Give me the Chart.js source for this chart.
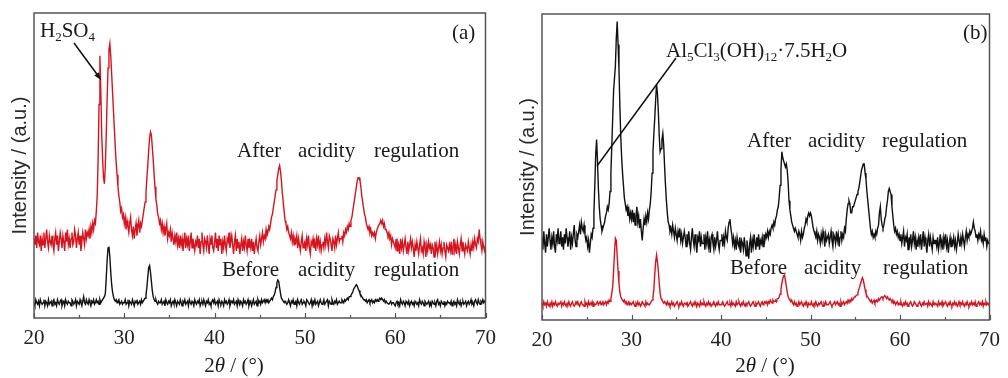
<!DOCTYPE html>
<html><head><meta charset="utf-8">
<script src="https://cdn.jsdelivr.net/npm/chart.js@4.4.0/dist/chart.umd.min.js"></script>
<style>
body{margin:0;background:#fff;width:1008px;height:378px;overflow:hidden;position:relative}
.p{position:absolute;top:0;height:378px;width:504px}
#wa{left:0}#wb{left:504px}
</style></head><body>
<div class="p" id="wa"><canvas id="ca"></canvas></div>
<div class="p" id="wb"><canvas id="cb"></canvas></div>
<script>
// 2θ sampling grid (degrees), 0.1° steps
const angles = [
20,20.1,20.2,20.3,20.4,20.5,20.6,20.7,20.8,20.9,21,21.1,21.2,21.3,21.4,21.5,21.6,21.7,21.8,21.9,
22,22.1,22.2,22.3,22.4,22.5,22.6,22.7,22.8,22.9,23,23.1,23.2,23.3,23.4,23.5,23.6,23.7,23.8,23.9,
24,24.1,24.2,24.3,24.4,24.5,24.6,24.7,24.8,24.9,25,25.1,25.2,25.3,25.4,25.5,25.6,25.7,25.8,25.9,
26,26.1,26.2,26.3,26.4,26.5,26.6,26.7,26.8,26.9,27,27.1,27.2,27.3,27.4,27.5,27.6,27.7,27.8,27.9,
28,28.1,28.2,28.3,28.4,28.5,28.6,28.7,28.8,28.9,29,29.1,29.2,29.3,29.4,29.5,29.6,29.7,29.8,29.9,
30,30.1,30.2,30.3,30.4,30.5,30.6,30.7,30.8,30.9,31,31.1,31.2,31.3,31.4,31.5,31.6,31.7,31.8,31.9,
32,32.1,32.2,32.3,32.4,32.5,32.6,32.7,32.8,32.9,33,33.1,33.2,33.3,33.4,33.5,33.6,33.7,33.8,33.9,
34,34.1,34.2,34.3,34.4,34.5,34.6,34.7,34.8,34.9,35,35.1,35.2,35.3,35.4,35.5,35.6,35.7,35.8,35.9,
36,36.1,36.2,36.3,36.4,36.5,36.6,36.7,36.8,36.9,37,37.1,37.2,37.3,37.4,37.5,37.6,37.7,37.8,37.9,
38,38.1,38.2,38.3,38.4,38.5,38.6,38.7,38.8,38.9,39,39.1,39.2,39.3,39.4,39.5,39.6,39.7,39.8,39.9,
40,40.1,40.2,40.3,40.4,40.5,40.6,40.7,40.8,40.9,41,41.1,41.2,41.3,41.4,41.5,41.6,41.7,41.8,41.9,
42,42.1,42.2,42.3,42.4,42.5,42.6,42.7,42.8,42.9,43,43.1,43.2,43.3,43.4,43.5,43.6,43.7,43.8,43.9,
44,44.1,44.2,44.3,44.4,44.5,44.6,44.7,44.8,44.9,45,45.1,45.2,45.3,45.4,45.5,45.6,45.7,45.8,45.9,
46,46.1,46.2,46.3,46.4,46.5,46.6,46.7,46.8,46.9,47,47.1,47.2,47.3,47.4,47.5,47.6,47.7,47.8,47.9,
48,48.1,48.2,48.3,48.4,48.5,48.6,48.7,48.8,48.9,49,49.1,49.2,49.3,49.4,49.5,49.6,49.7,49.8,49.9,
50,50.1,50.2,50.3,50.4,50.5,50.6,50.7,50.8,50.9,51,51.1,51.2,51.3,51.4,51.5,51.6,51.7,51.8,51.9,
52,52.1,52.2,52.3,52.4,52.5,52.6,52.7,52.8,52.9,53,53.1,53.2,53.3,53.4,53.5,53.6,53.7,53.8,53.9,
54,54.1,54.2,54.3,54.4,54.5,54.6,54.7,54.8,54.9,55,55.1,55.2,55.3,55.4,55.5,55.6,55.7,55.8,55.9,
56,56.1,56.2,56.3,56.4,56.5,56.6,56.7,56.8,56.9,57,57.1,57.2,57.3,57.4,57.5,57.6,57.7,57.8,57.9,
58,58.1,58.2,58.3,58.4,58.5,58.6,58.7,58.8,58.9,59,59.1,59.2,59.3,59.4,59.5,59.6,59.7,59.8,59.9,
60,60.1,60.2,60.3,60.4,60.5,60.6,60.7,60.8,60.9,61,61.1,61.2,61.3,61.4,61.5,61.6,61.7,61.8,61.9,
62,62.1,62.2,62.3,62.4,62.5,62.6,62.7,62.8,62.9,63,63.1,63.2,63.3,63.4,63.5,63.6,63.7,63.8,63.9,
64,64.1,64.2,64.3,64.4,64.5,64.6,64.7,64.8,64.9,65,65.1,65.2,65.3,65.4,65.5,65.6,65.7,65.8,65.9,
66,66.1,66.2,66.3,66.4,66.5,66.6,66.7,66.8,66.9,67,67.1,67.2,67.3,67.4,67.5,67.6,67.7,67.8,67.9,
68,68.1,68.2,68.3,68.4,68.5,68.6,68.7,68.8,68.9,69,69.1,69.2,69.3,69.4,69.5,69.6,69.7,69.8,69.9,
70];

// Panel (a): after acidity regulation (red)
const afterA = [
26,24,27,23,28,25,24,27,22,26, 24,28,23,26,29,25,23,27,25,24,
27,24,22,26,28,24,27,22,25,28, 26,23,27,25,22,28,25,29,24,26,
23,26,28,24,25,29,27,23,26,28, 24,27,22,25,28,26,24,29,26,28,
27,29,26,30,28,31,29,32,31,35, 40,52,70,86,74,60,52,46,44,50,
60,72,82,88,90,86,80,74,68,62, 56,51,47,43,40,38,35,36,33,34,
31,33,29,32,30,28,31,33,29,27, 30,26,29,31,27,30,32,28,31,30,
32,34,36,38,41,46,50,55,59,61, 60,56,52,47,43,39,37,34,33,31,
32,29,31,28,30,27,29,31,26,28, 27,29,25,28,26,24,27,25,28,24,
26,23,27,24,26,22,25,28,23,26, 24,27,22,25,28,23,26,24,22,25,
24,27,23,26,21,25,28,24,22,26, 25,23,27,24,21,26,24,27,23,22,
25,28,23,26,22,27,24,26,21,25, 23,27,24,22,26,25,28,23,25,27,
24,21,25,27,22,26,23,25,21,24, 26,22,25,23,27,24,22,26,23,25,
23,26,22,25,21,24,26,23,22,25, 27,24,26,28,25,27,26,29,27,28,
30,29,31,33,34,36,38,40,42,45, 47,49,50,48,45,41,38,35,32,31,
29,30,28,27,26,28,25,27,24,26, 25,27,23,26,24,22,25,27,23,24,
25,22,26,24,27,23,21,25,24,26, 23,25,22,26,24,27,23,25,22,24,
25,23,26,24,28,25,23,27,26,24, 22,26,25,23,27,24,26,28,25,26,
26,27,25,28,27,29,28,30,29,31, 30,32,33,35,37,39,41,43,45,46,
46,45,43,40,38,36,34,33,31,30, 29,30,28,29,27,28,27,28,26,28,
29,30,30,31,32,31,32,30,31,29, 29,28,27,28,26,27,24,26,25,24,
23,26,22,25,24,21,26,23,25,22, 24,26,23,21,25,22,24,26,23,25,
23,20,24,22,25,23,21,24,26,22, 23,21,25,23,20,24,22,25,23,24,
21,24,23,20,25,22,24,21,23,25, 22,24,21,23,25,22,20,24,23,22,
24,22,25,21,23,26,22,24,21,25, 23,21,24,26,22,25,23,21,24,23,
22,25,23,21,24,22,25,23,26,24, 23,26,25,29,26,24,22,25,23,22,
24];

// Panel (a): before acidity regulation (black)
const beforeA = [
5,4,6,5,4.5,5.5,4,6,5,4.5, 5,6,4,5.5,5,4,6,4.5,5,5.5,
4,5.5,6,4.5,5,4,6,5,4.5,5.5, 6,4,5,5.5,4,6,5,4.5,5.5,5,
5,4,6,5.5,4.5,5,6,4,5.5,5, 4.5,6,5,4,5.5,7,5,4.5,6,5,
4.5,6,5,4,5.5,5,6,4.5,5,6, 5,5.5,4.5,6,5,5.5,6,6.5,7,8,
13,19,23,23.4,20,15,11,8.5,7,6, 5.5,6,5,5.5,6,4.5,5,5.5,4.5,5,
5,6,4.5,5,6,4,5.5,5,4.5,6, 5,4,5.5,5,6,4.5,5,5.5,4.5,6,
5,5.5,6,6.5,7.5,10,13.5,16.5,17.2,15, 12,9,7,6,5.5,6,5,4.5,5.5,5,
5,6,4.5,5,5.5,4,6,5,4.5,5.5, 5,6,4,5,5.5,4.5,6,5,4,5.5,
5,4.5,6,5,4,5.5,5,6,4.5,5, 5.5,4,6,5,4.5,5.5,5,4,6,5,
4.5,5.5,5,6,4,5,5.5,4.5,6,5, 4,5.5,5,6,4.5,5,4,5.5,6,5,
6,4.5,5,5.5,4,6,5,4.5,5.5,5, 4,6,5,5.5,4.5,5,6,4,5,5.5,
5,6,4.5,5,5.5,4,6,5,4.5,5.5, 5,4,6,5,5.5,4.5,5,6,4,5,
5.5,4,5,6,4.5,5,5.5,4,6,5, 5.5,4.5,6,5,5.5,6,5,6,5.5,6,
5,5.5,6,6.5,6,7,7.5,8.5,10,11.5, 12.5,12,10,8,6.5,6,5.5,5,5.5,5,
4.5,5,6,5,4,5.5,5,6,4.5,5, 5.5,4,6,5,4.5,5.5,6,4.5,5,5.5,
5,4,6,5.5,5,4.5,5,6,4,5.5, 5,6,4.5,5,5.5,4,5,6,5,4.5,
5,6,4.5,5,5.5,6,4,5.5,5,4.5, 6,5,4.5,5.5,5,6,4.5,5,5.5,5,
5,6,5.5,5,6,5.5,6,6.5,6,7, 7,7.5,8,8.5,9.5,10,10.5,10.9,10.5,9.5,
9,8,7.5,7,6.5,6,6,5.5,6,5, 5.5,6,5,5.5,6,5,5.5,5,6,5.5,
6,5.5,6,6.5,6,6.5,6,5.5,6,5, 5.5,5,5,4.5,5,5.5,4.5,5,5,4.5,
4,5,5.5,4.5,5,4,6,5,4.5,5.5, 5,4,5.5,5,4.5,5.5,4,5,5.5,4.5,
5,4,5.5,5,4.5,5,4,6,5,4.5, 5.5,5,4,5.5,5,4.5,5,5.5,4,5,
4,5.5,5,4.5,5,4,5.5,6,4.5,5, 4,5.5,5,4.5,5.5,4,5,4.5,5.5,5,
5,4.5,5.5,4,5,5.5,4.5,5,4,6, 5,4.5,5.5,4,5,5.5,4.5,5,5.5,4,
5,5.5,4.5,5,6,4.5,5,4,5.5,6, 5,4.5,6,5,4.5,5.5,5,6,5,5.5,
5];

// Panel (b): after acidity regulation (black)
const afterB = [
27,23,29,25,22,28,24,27,30,26, 23,27,25,29,24,22,28,26,30,25,
26,29,24,27,23,28,25,30,27,24, 26,29,23,27,25,28,31,26,24,28,
27,29,31,28,32,30,29,31,28,26, 27,24,26,22,25,28,27,30,35,44,
54,59,52,43,37,33,31,29,30,31, 32,34,35,37,36,38,42,48,57,66,
75,79,83,92,97.5,90,82,70,60,53, 48,44,40,38,36,37,34,36,33,35,
33,36,32,35,31,34,37,32,34,30, 33,29,26,30,33,31,34,32,35,33,
36,38,42,48,55,61,66,72,77,74, 68,60,55,56,59,61,57,50,44,39,
35,32,31,29,30,28,31,29,27,30, 28,26,29,27,30,26,28,25,27,29,
27,24,28,26,29,25,23,27,30,26, 24,28,25,22,27,26,29,24,27,25,
25,28,23,27,25,29,24,26,22,27, 28,25,23,27,24,26,29,25,23,26,
26,28,24,27,25,29,27,26,30,32, 33,30,28,25,27,24,26,23,27,25,
24,27,22,26,25,23,27,24,21,26, 23,20,25,27,22,26,24,28,25,23,
27,24,28,23,26,25,27,24,28,26, 28,27,29,27,29,28,30,31,30,32,
31,33,34,36,37,40,44,49,55,53, 52,51,50,51,49,45,39,36,34,32,
31,30,29,30,29,28,27,29,28,26, 29,27,28,30,31,33,32,34,35,34,
35,34,32,30,29,28,27,29,26,28, 27,25,28,26,29,27,24,28,26,27,
28,25,27,29,26,24,28,27,25,29, 26,28,24,27,29,26,28,27,30,29,
33,36,38,39,38,35,35,37,37,38, 39,40,41,42,43,45,47,49,50,51,
51,48,46,42,39,36,33,30,28,29, 27,28,27,29,28,30,31,35,37,33,
31,30,31,33,34,37,39,42,43,42, 41,37,34,31,29,30,28,29,27,28,
26,28,25,27,29,24,27,26,28,23, 27,25,28,24,26,29,25,27,23,26,
24,27,25,28,23,26,29,24,27,25, 22,26,28,24,27,25,23,27,25,26,
26,24,27,23,25,28,24,26,23,27, 25,28,24,26,22,25,27,24,26,25,
27,24,26,23,25,28,26,24,27,25, 28,26,24,27,29,26,28,27,29,28,
29,30,32,30,29,27,28,26,28,27, 29,26,27,25,28,26,27,24,26,25,
25];

// Panel (b): before acidity regulation (red)
const beforeB = [
5.5,4.5,6,5,5.5,4.5,6,5,4.5,5.5, 5,6,4.5,5.5,5,6,5,4.5,5.5,5,
5,6,4.5,5.5,5,6,5,4.5,5.5,5, 6,5,4.5,5.5,6,5,4.5,5,6,5.5,
6,5,4.5,5.5,6,5,5,4.5,6,5, 5.5,4.5,6,5,5.5,5,6,4.5,5.5,5,
5,5.5,6,5,5.5,6,5,5.5,6,5, 5.5,6,5,6,5.5,6.5,6,7,8.7,11,
16,22,26.7,26,21,16,12,9,7.6,7, 6.5,6,6.5,5.5,6,5,5.5,6,5,5.5,
5,5.5,6,5,4.5,5.5,5,6,5,5.5, 4.5,5,6,5.5,5,4.5,6,5,5.5,5,
5,5.5,6,6.5,7.6,10,15,19,21.2,19, 16,12,8.7,7,6.5,6,5.5,6,5.5,5,
6,5,5.5,4.5,5,6,5,5.5,4.5,5, 5.5,6,5,4.5,5.5,5,6,5,4.5,5.5,
5.5,5,6,4.5,5,5.5,6,5,4.5,5.5, 5,6,5,4.5,5.5,5,4.5,6,5,5.5,
5,6,5,4.5,5.5,5,6,5,5.5,4.5, 5,5.5,6,5,4.5,5.5,5,6,5,5,
5,5.5,6,5,4.5,5,5.5,6,5,5, 5.5,4.5,6,5,5.5,5,4.5,6,5,5.5,
6,5,4.5,5.5,5,6,5,4.5,5.5,5, 5.5,6,5,4.5,5,5.5,6,5,4.5,5.5,
5,5.5,6,5,4.5,5.5,6,5,5.5,6, 5.5,6,5,6,5.5,6.5,6,5.5,6.5,6,
6,6.5,6,7,7,7.5,8.5,10,12,13.5, 14.5,14.7,13,11,9,7.6,7,6.5,6,6.5,
5.5,5,6,5,5.5,4.5,5,6,5,5.5, 6,5,4.5,5.5,5,6,5,4.5,5.5,5,
5,6,5,4.5,5.5,5,6,5,4.5,5.5, 5,5.5,6,5,4.5,5.5,5,6,5,5,
5,5.5,6,5,4.5,5,5.5,6,5,5.5, 6,5,5.5,4.5,6,5,5.5,6,5,5.5,
6,5.5,6.5,6,6.5,6,7,6.5,7,7.5, 7.5,8,8.2,9,10,10.9,12,13,13.8,13,
11.5,10,8.7,8,7.5,7,6.5,6,6.5,5.5, 6,6.5,5.5,6,6.5,6,7,6.5,7,7.5,
7.6,7,7.6,8,7.6,7,7.6,7,6.5,7, 6.5,6,6.5,5.5,6,5,5.5,6,5,5.5,
5,6,5,4.5,5.5,5,6,5,5.5,4.5, 5,5.5,6,5,4.5,5,6,5.5,5,4.5,
5,5.5,6,5,4.5,5.5,5,6,5,5, 5.5,4.5,6,5,5.5,5,4.5,6,5,5.5,
5.5,5,4.5,6,5,5.5,5,6,4.5,5, 5.5,6,5,4.5,5.5,5,6,5,4.5,5.5,
5,6,5,5.5,4.5,5,6,5,5.5,5, 6,5,4.5,5.5,5,6,5,4.5,5.5,5,
6,5,5.5,5,6,4.5,5,5.5,6,5, 5.5,5,6,4.5,5.5,5,6,5,5.5,5,
5.5];

const xTickLabels = ['20','30','40','50','60','70'];
const yTitle = 'Intensity / (a.u.)';
const RED = '#d7141e', BLACK = '#111111';
const SERIF = '"Liberation Serif","Times New Roman",serif';
const SANS = '"Liberation Sans",Arial,sans-serif';

function pts(vals){ return angles.map((a,i)=>({x:a,y:vals[i]})); }

function rich(ctx, parts, x, y, size){
  let cx = x;
  for (const [t, sub] of parts){
    ctx.font = (sub ? Math.round(size*0.62) : size) + 'px ' + SERIF;
    ctx.fillText(t, cx, sub ? y + Math.round(size*0.2) : y);
    cx += ctx.measureText(t).width;
  }
  return cx - x;
}

function xTitle(ctx, cx, y){
  const size = 21;
  const parts = [['2',''],['\u03B8','italic '],[' / (\u00B0)','']];
  let w = 0;
  for (const [t,st] of parts){ ctx.font = st + size + 'px ' + SERIF; w += ctx.measureText(t).width; }
  let x = cx - w/2;
  for (const [t,st] of parts){ ctx.font = st + size + 'px ' + SERIF; ctx.fillText(t, x, y); x += ctx.measureText(t).width; }
}

const framePlugin = {
  id:'frame',
  afterDatasetsDraw(chart){
    const {ctx, chartArea:a, scales:{x}} = chart;
    ctx.save();
    ctx.strokeStyle = '#555'; ctx.lineWidth = 1.5;
    ctx.strokeRect(a.left, a.top, a.right-a.left, a.bottom-a.top);
    ctx.lineWidth = 1.2;
    for (let v = 20; v <= 70; v += 5){
      const px = Math.round(x.getPixelForValue(v)) + 0.5;
      const len = v % 10 === 0 ? 5 : 3;
      ctx.beginPath(); ctx.moveTo(px, a.bottom); ctx.lineTo(px, a.bottom - len); ctx.stroke();
    }
    ctx.restore();
  }
};

function words(ctx, list, y){
  ctx.font = '21px ' + SERIF;
  for (const [t,x] of list) ctx.fillText(t, x, y);
}

const notesA = {
  id:'notesA',
  afterDraw(chart){
    const ctx = chart.ctx;
    ctx.save();
    ctx.fillStyle = '#1a1a1a'; ctx.textBaseline = 'alphabetic';
    rich(ctx, [['H',0],['2',1],['SO',0],['4',1]], 40, 37, 21);
    words(ctx, [['After',237],['acidity',298],['regulation',374]], 157);
    words(ctx, [['Before',222],['acidity',298],['regulation',374]], 276);
    ctx.font = '21px ' + SERIF; ctx.fillText('(a)', 452, 39);
    xTitle(ctx, 234, 372);
    ctx.strokeStyle = '#111'; ctx.lineWidth = 1.5;
    ctx.beginPath(); ctx.moveTo(74, 43); ctx.lineTo(99, 77); ctx.stroke();
    const ang = Math.atan2(80-43, 101-74);
    ctx.beginPath();
    ctx.moveTo(101, 80);
    ctx.lineTo(101 - 8*Math.cos(ang-0.35), 80 - 8*Math.sin(ang-0.35));
    ctx.lineTo(101 - 8*Math.cos(ang+0.35), 80 - 8*Math.sin(ang+0.35));
    ctx.closePath(); ctx.fillStyle = '#111'; ctx.fill();
    ctx.restore();
  }
};

const notesB = {
  id:'notesB',
  afterDraw(chart){
    const ctx = chart.ctx;
    ctx.save();
    ctx.fillStyle = '#1a1a1a'; ctx.textBaseline = 'alphabetic';
    rich(ctx, [['Al',0],['5',1],['Cl',0],['3',1],['(OH)',0],['12',1],['\u00B77.5H',0],['2',1],['O',0]], 162, 57, 21);
    words(ctx, [['After',243],['acidity',304],['regulation',378]], 147);
    words(ctx, [['Before',226],['acidity',300],['regulation',379]], 274);
    ctx.font = '21px ' + SERIF; ctx.fillText('(b)', 459, 39);
    xTitle(ctx, 261, 372);
    ctx.strokeStyle = '#111'; ctx.lineWidth = 1.5;
    ctx.beginPath(); ctx.moveTo(172, 58); ctx.lineTo(93, 166); ctx.stroke();
    ctx.restore();
  }
};

function makeChart(id, sets, pad, yWidth, xHeight, titlePad, notes){
  return new Chart(document.getElementById(id), {
    type:'line',
    data:{ datasets: sets.map(s=>({data:pts(s.vals), borderColor:s.color, borderWidth:1.4, pointRadius:0, tension:0, fill:false})) },
    options:{
      responsive:true, maintainAspectRatio:false, animation:false,
      layout:{padding:pad},
      plugins:{legend:{display:false}, tooltip:{enabled:false}},
      scales:{
        x:{type:'linear', min:20, max:70,
          grid:{display:false, drawTicks:false}, border:{display:false},
          ticks:{stepSize:10, padding:8, color:'#222', font:{family:SERIF, size:21},
            callback:(v)=>xTickLabels.includes(String(v)) ? String(v) : ''},
          afterFit:(s)=>{ s.height = xHeight; }},
        y:{min:0, max:100,
          grid:{display:false, drawTicks:false}, border:{display:false},
          ticks:{display:false},
          title:{display:true, text:yTitle, color:'#2a2a2a', font:{family:SANS, size:20}, padding:{top:titlePad, bottom:0}},
          afterFit:(s)=>{ s.width = yWidth; }}
      }
    },
    plugins:[framePlugin, notes]
  });
}

makeChart('ca', [{vals:afterA, color:RED},{vals:beforeA, color:BLACK}], {left:0, right:16, top:13, bottom:0}, 34, 60, 8, notesA);
makeChart('cb', [{vals:afterB, color:BLACK},{vals:beforeB, color:RED}], {left:0, right:10, top:14, bottom:0}, 38, 58, 12, notesB);
</script>
</body></html>
